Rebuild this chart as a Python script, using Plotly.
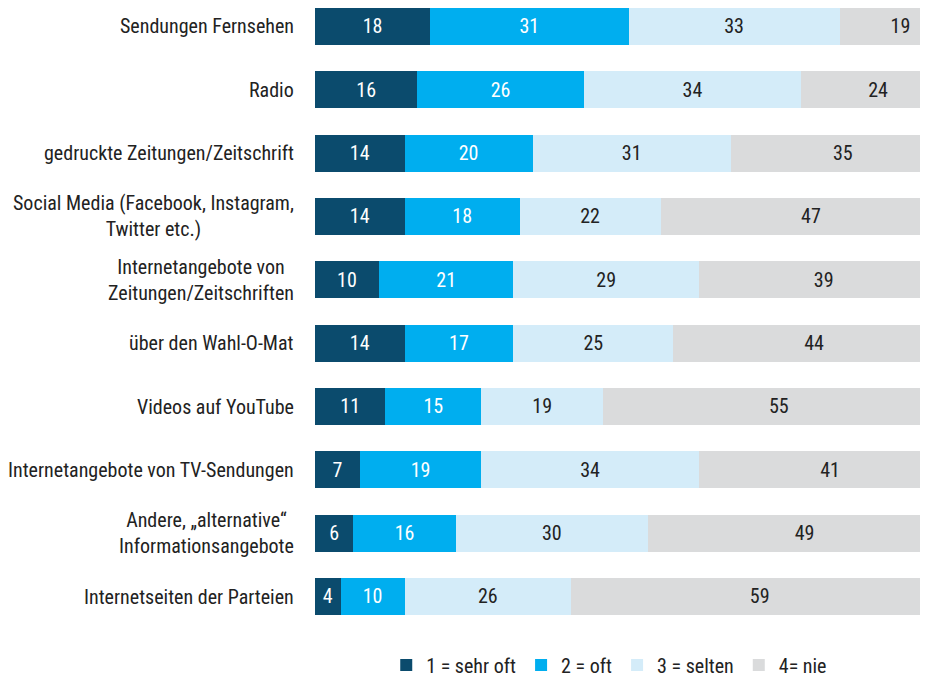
import plotly.graph_objects as go

categories = [
    "Sendungen Fernsehen",
    "Radio",
    "gedruckte Zeitungen/Zeitschrift",
    "Social Media (Facebook, Instagram,<br>Twitter etc.)",
    "Internetangebote von<br>Zeitungen/Zeitschriften",
    "über den Wahl-O-Mat",
    "Videos auf YouTube",
    "Internetangebote von TV-Sendungen",
    "Andere, „alternative“<br>Informationsangebote",
    "Internetseiten der Parteien",
]
sehr_oft = [18, 16, 14, 14, 10, 14, 11, 7, 6, 4]
oft = [31, 26, 20, 18, 21, 17, 15, 19, 16, 10]
selten = [33, 34, 31, 22, 29, 25, 19, 34, 30, 26]
nie = [19, 24, 35, 47, 39, 44, 55, 41, 49, 59]
series_names = ["1 = sehr oft", "2 = oft", "3 = selten", "4= nie"]

FONT = "Roboto Condensed, Liberation Sans Narrow, Arial Narrow, sans-serif"
colors = ["#0b4b6d", "#00aeef", "#d4ecf9", "#dadbdc"]
text_colors = ["white", "white", "#222222", "#222222"]

ids = list(range(len(categories)))
fig = go.Figure()
for name, vals, c, tc in zip(series_names, [sehr_oft, oft, selten, nie], colors, text_colors):
    fig.add_trace(go.Bar(
        y=ids, x=vals, orientation="h", name=name,
        marker=dict(color=c, line=dict(width=0)),
        text=[str(v) for v in vals], textposition="inside",
        insidetextanchor="middle",
        textfont=dict(color=tc, size=20, family=FONT),
        cliponaxis=True,
    ))

for i, cat in enumerate(categories):
    fig.add_annotation(
        x=-0.031, xref="paper", y=i, yref="y", text=cat, showarrow=False,
        xanchor="right", align="center",
        font=dict(size=20, family=FONT, color="#222222"),
    )

fig.update_layout(
    width=920, height=669,
    barmode="stack", bargap=0.415,
    margin=dict(l=307, r=0, t=0, b=47, autoexpand=False),
    plot_bgcolor="white", paper_bgcolor="white",
    font=dict(family=FONT, size=20, color="#222222"),
    xaxis=dict(range=[0, 95.8], visible=False, fixedrange=True),
    yaxis=dict(range=[9.529, -0.292], showticklabels=False, showgrid=False,
               zeroline=False, showline=False, ticks=""),
    legend=dict(orientation="h", x=0.48, xanchor="center", y=-0.0563, yanchor="middle",
                font=dict(size=20, family=FONT, color="#222222"),
                traceorder="normal", itemwidth=30),
    uniformtext=dict(minsize=10, mode="show"),
)

fig.write_html("out.html")
